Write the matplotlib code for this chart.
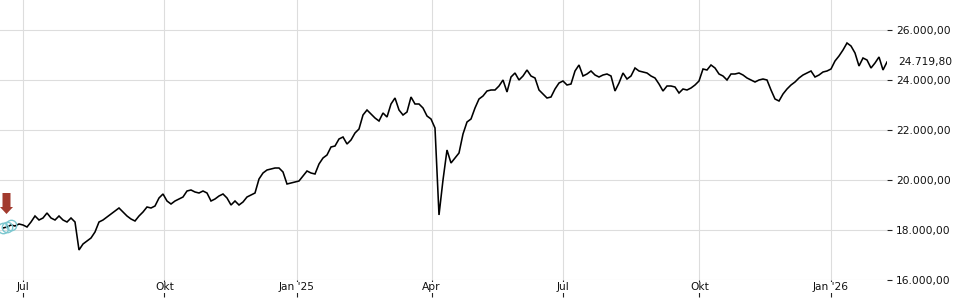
import matplotlib
matplotlib.use("Agg")
import matplotlib.pyplot as plt
from matplotlib.patches import Polygon
from matplotlib.transforms import ScaledTranslation, blended_transform_factory
import numpy as np

# ---- data (DAX-like index, evenly spaced samples along the session axis) ----
values = [
    18080, 18120, 18200, 18160, 18240, 18200, 18120, 18320, 18560, 18400,
    18480, 18680, 18480, 18400, 18560, 18400, 18320, 18480, 18320, 17200,
    17440, 17560, 17680, 17920, 18320, 18400, 18520, 18640, 18760, 18880,
    18720, 18560, 18440, 18360, 18560, 18720, 18920, 18880, 18960, 19280,
    19440, 19160, 19040, 19160, 19240, 19320, 19560, 19600, 19520, 19480,
    19560, 19480, 19160, 19240, 19360, 19440, 19280, 19000, 19160, 19000,
    19120, 19320, 19400, 19480, 20040, 20280, 20400, 20440, 20480, 20480,
    20320, 19840, 19880, 19920, 19960, 20160, 20360, 20280, 20240, 20640,
    20880, 21000, 21320, 21360, 21640, 21720, 21440, 21600, 21880, 22040,
    22600, 22800, 22640, 22480, 22360, 22680, 22520, 23040, 23280, 22800,
    22600, 22720, 23320, 23040, 23040, 22880, 22560, 22440, 22080, 18600,
    20000, 21200, 20680, 20880, 21080, 21840, 22320, 22440, 22880, 23240,
    23360, 23560, 23600, 23600, 23760, 24000, 23520, 24120, 24280, 24000,
    24160, 24400, 24160, 24080, 23600, 23440, 23280, 23320, 23640, 23880,
    23960, 23800, 23840, 24360, 24600, 24160, 24240, 24360, 24200, 24120,
    24200, 24240, 24160, 23560, 23880, 24280, 24040, 24160, 24480, 24360,
    24320, 24280, 24160, 24080, 23840, 23560, 23760, 23760, 23720, 23480,
    23640, 23600, 23680, 23800, 23960, 24440, 24400, 24600, 24480, 24240,
    24160, 24000, 24240, 24240, 24280, 24200, 24080, 24000, 23920, 24000,
    24040, 24000, 23600, 23240, 23160, 23440, 23640, 23800, 23920, 24080,
    24200, 24280, 24360, 24120, 24200, 24320, 24360, 24440, 24760, 24960,
    25200, 25480, 25360, 25080, 24560, 24880, 24800, 24480, 24680, 24920,
    24400, 24719.80,
]
last_label = "24.719,80"

x_tick_labels = ["Jul", "Okt", "Jan '25", "Apr", "Jul", "Okt", "Jan '26"]
x_tick_pos = [5.08, 40.33, 73.43, 107.18, 140.08, 174.08, 207.0]

y_ticks = [16000, 18000, 20000, 22000, 24000, 26000]
y_tick_labels = ["16.000,00", "18.000,00", "20.000,00", "22.000,00", "24.000,00", "26.000,00"]

n_marked = 3  # first samples highlighted with open circles

# ---- figure ----
plt.rcParams["font.family"] = ["DejaVu Sans"]
fig = plt.figure(figsize=(9.6, 3.0), dpi=100)
ax = fig.add_axes([0.0, 20 / 300, 887 / 960, 280 / 300])

x = np.arange(len(values))
ax.plot(x, values, color="black", lw=1.15, solid_joinstyle="miter", zorder=3)
ax.plot(x[:n_marked], values[:n_marked], ls="none", marker="o", ms=7.5,
        mfc="none", mec="#7cc7cf", mew=1.0, zorder=4)

ax.set_xlim(-0.75, len(values) - 1)
ax.set_ylim(16000, 27200)

ax.set_xticks(x_tick_pos)
ax.set_xticklabels(x_tick_labels)
ax.set_yticks(y_ticks)
ax.set_yticklabels(y_tick_labels)

ax.yaxis.tick_right()
ax.tick_params(axis="y", direction="out", length=3.5, width=0.8, color="#222222",
               pad=3.0, labelsize=7.7, labelcolor="#111111")
ax.tick_params(axis="x", direction="out", length=12, width=0.8, color="#222222",
               pad=-10.5, labelsize=7.7, labelcolor="#111111")
for lab in ax.get_xticklabels():
    lab.set_bbox(dict(facecolor="white", edgecolor="none", pad=0.3))

ax.grid(True, color="#dddddd", lw=0.8)
ax.set_axisbelow(True)
for s in ax.spines.values():
    s.set_visible(False)

# last value label on the right
trans = blended_transform_factory(ax.transAxes, ax.transData)
ax.annotate(last_label, xy=(1.0, values[-1]), xycoords=trans,
            xytext=(8.0, 0), textcoords="offset points",
            ha="left", va="center", fontsize=7.7, color="#111111",
            annotation_clip=False)

# red down arrow above the first samples
anchor = ScaledTranslation(x[1], values[1], ax.transData)
arrow_px = [(-0.5, 13), (-7, 20), (-4.5, 20), (-4.5, 34), (3.5, 34), (3.5, 20), (6, 20)]
arrow = Polygon([(px / 100.0, py / 100.0) for px, py in arrow_px], closed=True,
                transform=fig.dpi_scale_trans + anchor,
                facecolor="#a23a2e", edgecolor="none", zorder=5, clip_on=False)
ax.add_patch(arrow)

fig.savefig("out.png", dpi=100)
